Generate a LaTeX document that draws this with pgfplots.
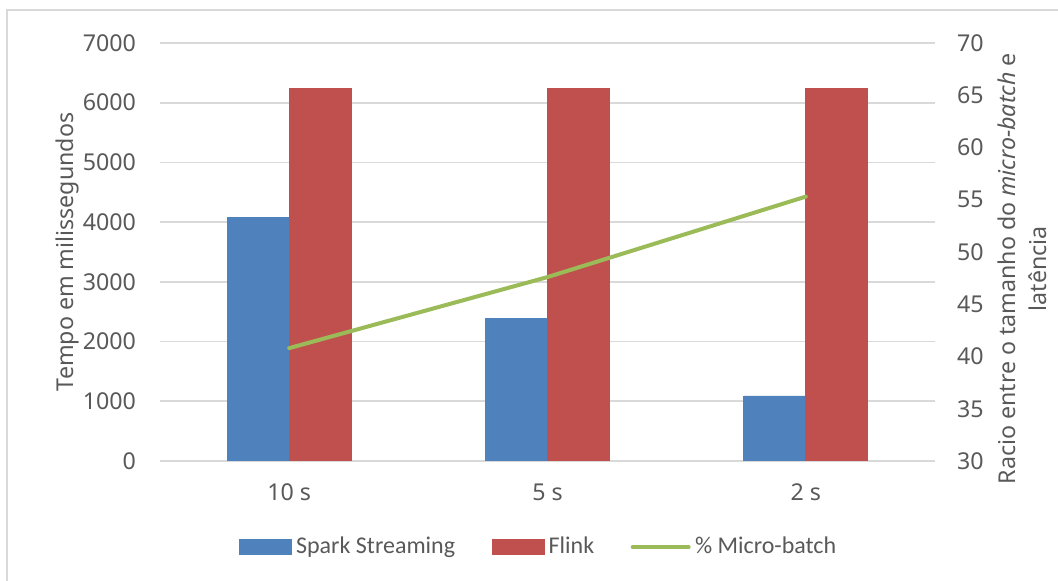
\documentclass[border=0pt]{standalone}
\usepackage{pgfplots}
\pgfplotsset{compat=1.18}
\usepackage{fontspec}
\setmainfont{Noto Sans}
\newfontfamily\legendfont{Carlito}
\definecolor{sparkblue}{HTML}{4F81BD}
\definecolor{flinkred}{HTML}{C0504D}
\definecolor{batchgreen}{HTML}{9BBB59}
\definecolor{gridgrey}{HTML}{D9D9D9}
\definecolor{textgrey}{HTML}{595959}

\begin{document}
\begin{tikzpicture}[x=1pt,y=1pt]
\fontsize{11.6}{15.5}\selectfont
\path[use as bounding box] (0,0) rectangle (529,290.5);
\draw[gridgrey, line width=0.8pt] (3.5,-20) rectangle (560,285.5);

\pgfplotsset{
  every axis/.append style={
    scale only axis, width=387.5pt, height=209pt,
    at={(80pt,60pt)}, anchor=south west,
    xmin=-0.5, xmax=2.5,
    font=\fontsize{11.6}{15.5}\selectfont,
    tick label style={text=textgrey},
    label style={text=textgrey},
    major tick length=0pt,
    axis line style={draw=none},
    /pgf/number format/assume math mode=true,
    /pgf/number format/1000 sep={},
  }
}

% Left axis: latency bars
\begin{axis}[
  ybar=0pt, bar width=31pt,
  ymin=0, ymax=7000, ytick={0,1000,...,7000},
  xtick={0,1,2}, xticklabels={10 s,5 s,2 s},
  xticklabel style={yshift=-7.5pt},
  yticklabel style={xshift=-8pt},
  ymajorgrids, grid style={gridgrey, line width=0.9pt},
  ylabel={Tempo em milissegundos},
  ylabel style={at={(axis description cs:-0.12,0.5)}, anchor=center, rotate=0},
]
\addplot[fill=sparkblue, draw=sparkblue] coordinates {(0,4080) (1,2380) (2,1090)};
\addplot[fill=flinkred, draw=flinkred] coordinates {(0,6240) (1,6240) (2,6240)};
\end{axis}

% Right axis: micro-batch ratio
\begin{axis}[
  ymin=30, ymax=70, ytick={30,35,...,70},
  axis y line*=right, axis x line=none,
  yticklabel style={xshift=7pt},
  ylabel={Racio entre o tamanho do \textit{micro-batch} e\\latência},
  ylabel style={align=center, at={(axis description cs:1.112,0.46)}, anchor=center, rotate=0},
  legend columns=3,
  legend style={at={(0.49,-0.206)}, anchor=center, draw=none, fill=none,
    text=textgrey, font=\legendfont\fontsize{12}{15}\selectfont,
    /tikz/every even column/.append style={column sep=16pt},
    nodes={inner sep=2.2pt}},
]
\addlegendimage{legend image code/.code={\fill[sparkblue] (0pt,-3.7pt) rectangle (26pt,3.7pt);}}
\addlegendentry{Spark Streaming}
\addlegendimage{legend image code/.code={\fill[flinkred] (0pt,-3.7pt) rectangle (26pt,3.7pt);}}
\addlegendentry{Flink}
\addplot[batchgreen, line width=2pt, line cap=round,
  legend image code/.code={\draw[batchgreen, line width=2pt, line cap=round] (0pt,0pt) -- (28pt,0pt);}]
  coordinates {(0,40.8) (1,47.6) (2,55.3)};
\addlegendentry{\% Micro-batch}
\end{axis}
\end{tikzpicture}
\end{document}
